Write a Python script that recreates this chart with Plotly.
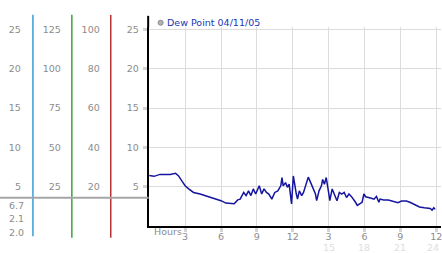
import plotly.graph_objects as go

# ---------------- data ----------------
hours = [0.0, 0.4, 0.9, 1.35, 1.75, 2.2, 2.45, 2.75, 3.0, 3.3, 3.7, 4.25, 4.8, 5.35, 5.9,
         6.0, 6.4, 6.8, 7.1, 7.4, 7.6, 7.9, 8.1, 8.3, 8.5, 8.7, 8.9, 9.2, 9.4, 9.6, 9.8,
         10.0, 10.25, 10.5, 10.75, 11.0, 11.1, 11.2, 11.4, 11.55, 11.7, 11.9, 12.05, 12.3,
         12.4, 12.55, 12.75, 12.9, 13.15, 13.3, 13.5, 13.7, 13.9, 14.0, 14.2, 14.4, 14.5,
         14.65, 14.8, 15.0, 15.1, 15.3, 15.5, 15.7, 15.9, 16.1, 16.3, 16.5, 16.7, 16.9,
         17.25, 17.4, 17.6, 17.8, 17.95, 18.1, 18.5, 18.8, 19.0, 19.2, 19.3, 19.6, 20.0,
         20.4, 20.8, 21.1, 21.5, 21.8, 22.2, 22.6, 23.0, 23.5, 23.65, 23.8, 23.9]
dew_point = [6.4, 6.3, 6.55, 6.5, 6.55, 6.7, 6.35, 5.65, 5.1, 4.7, 4.25, 4.05, 3.8, 3.55, 3.3,
             3.2, 2.9, 2.85, 2.8, 3.3, 3.4, 4.25, 3.85, 4.45, 3.85, 4.7, 4.05, 5.1, 4.05, 4.7, 4.25,
             4.05, 3.4, 4.25, 4.45, 5.1, 6.15, 5.1, 5.5, 4.9, 5.3, 2.8, 6.35, 4.05,
             3.4, 4.45, 3.85, 4.25, 5.7, 6.2, 5.5, 4.7, 4.05, 3.2, 4.45, 5.1, 5.9,
             5.3, 6.15, 4.25, 3.2, 4.7, 3.85, 3.2, 4.25, 4.05, 4.25, 3.6, 4.05, 3.75,
             3.0, 2.6, 2.8, 3.0, 4.05, 3.7, 3.55, 3.4, 3.75, 3.0, 3.4, 3.3, 3.3,
             3.15, 2.95, 3.15, 3.15, 3.0, 2.75, 2.4, 2.3, 2.2, 2.0, 2.3, 2.1]

series_name = "Dew Point 04/11/05"
y_ticks = [5, 10, 15, 20, 25]
y_ticks_col2 = [25, 50, 75, 100, 125]
y_ticks_col3 = [20, 40, 60, 80, 100]
x_ticks = [3, 6, 9, 12, 15, 18, 21, 24]
x_ticktext = ["3", "6", "9", "12", "3", "6", "9", "12"]
x_ticks_24h = [15, 18, 21, 24]
stats_labels = ["6.7", "2.1", "2.0"]

# ---------------- layout helpers ----------------
W, H = 442, 253
def px(x):
    return x / W
def py(y):
    return 1 - y / H

FONT = "DejaVu Sans"
GREY = "#8c8c8c"
tickfont = dict(family=FONT, size=9.5, color=GREY)

fig = go.Figure()
fig.add_trace(go.Scatter(x=hours, y=dew_point, mode="lines",
                         line=dict(color="#1414a0", width=1.5),
                         showlegend=False, hoverinfo="skip"))

ydom = [py(225.5), py(24.4)]
yr = [0, 25.3]

fig.update_layout(
    width=W, height=H,
    margin=dict(l=0, r=0, t=0, b=0),
    paper_bgcolor="white", plot_bgcolor="white",
    showlegend=False,
    xaxis=dict(domain=[px(149), 1], range=[-0.05, 24.4],
               tickvals=x_ticks, ticktext=x_ticktext,
               showgrid=True, gridcolor="#dcdcdc", gridwidth=1,
               showline=True, linecolor="black", linewidth=2,
               ticks="outside", ticklen=4, tickwidth=3, tickcolor="#d4d4d4",
               tickfont=tickfont, zeroline=False, ticklabelstandoff=-3,
               ticklabeloverflow="allow"),
    yaxis=dict(domain=ydom, range=yr, tickvals=y_ticks,
               showgrid=True, gridcolor="#dcdcdc", gridwidth=1,
               showline=True, linecolor="black", linewidth=2,
               ticks="outside", ticklen=4, tickwidth=3, tickcolor="#d4d4d4",
               tickfont=tickfont, zeroline=False, ticklabelstandoff=2),
    yaxis2=dict(overlaying="y", anchor="free", position=px(33), side="left",
                range=yr, tickvals=y_ticks, showgrid=False, showline=False,
                ticks="", tickfont=tickfont, zeroline=False, ticklabelstandoff=12),
    yaxis3=dict(overlaying="y", anchor="free", position=px(72), side="left",
                range=[yr[0] * 5, yr[1] * 5], tickvals=y_ticks_col2, showgrid=False,
                showline=False, ticks="", tickfont=tickfont, zeroline=False,
                ticklabelstandoff=11),
    yaxis4=dict(overlaying="y", anchor="free", position=px(111), side="left",
                range=[yr[0] * 4, yr[1] * 4], tickvals=y_ticks_col3, showgrid=False,
                showline=False, ticks="", tickfont=tickfont, zeroline=False,
                ticklabelstandoff=11),
)

# attach empty traces so the extra axes render
for ya in ["y2", "y3", "y4"]:
    fig.add_trace(go.Scatter(x=[None], y=[None], yaxis=ya, showlegend=False,
                             hoverinfo="skip"))

shapes = []
# colored scale lines
for xpos, col, ybot in [(33, "#3a9fd6", 236), (72, "#3aa23a", 237.5), (111, "#b83232", 237.5)]:
    shapes.append(dict(type="line", xref="paper", yref="paper",
                       x0=px(xpos), x1=px(xpos), y0=py(12), y1=py(ybot),
                       line=dict(color=col, width=1.5)))
# grey horizontal separator
shapes.append(dict(type="line", xref="paper", yref="paper",
                   x0=0, x1=px(149), y0=py(197), y1=py(197),
                   line=dict(color="#a6a6a6", width=2)))
# black axis extension above plot
shapes.append(dict(type="line", xref="paper", yref="paper",
                   x0=px(148.5), x1=px(148.5), y0=py(13), y1=py(25),
                   line=dict(color="black", width=2)))
# legend marker
shapes.append(dict(type="circle", xref="paper", yref="paper",
                   x0=px(158.5), x1=px(163.5), y0=py(22.5), y1=py(17.5),
                   fillcolor="#b4b4b4", line=dict(color="#888888", width=1)))
fig.update_layout(shapes=shapes)

annotations = []
annotations.append(dict(text=series_name, xref="paper", yref="paper",
                        x=px(165), y=py(20), xanchor="left", yanchor="middle",
                        showarrow=False, font=dict(family=FONT, size=9.5, color="#2036b4")))
annotations.append(dict(text="Hours", xref="paper", yref="paper",
                        x=px(152), y=py(231), xanchor="left", yanchor="middle",
                        showarrow=False, font=tickfont))
for xv in x_ticks_24h:
    annotations.append(dict(text=str(xv), xref="x", yref="paper",
                            x=xv, y=py(247), xanchor="center", yanchor="middle",
                            showarrow=False, xshift=(-3 if xv == 24 else 0),
                            font=dict(family=FONT, size=9.5, color="#dedede")))
for i, s in enumerate(stats_labels):
    annotations.append(dict(text=s, xref="paper", yref="paper",
                            x=px(26), y=py(205 + 13.5 * i), xanchor="right",
                            yanchor="middle", showarrow=False, font=tickfont))
fig.update_layout(annotations=annotations)

fig.write_html("out.html")
